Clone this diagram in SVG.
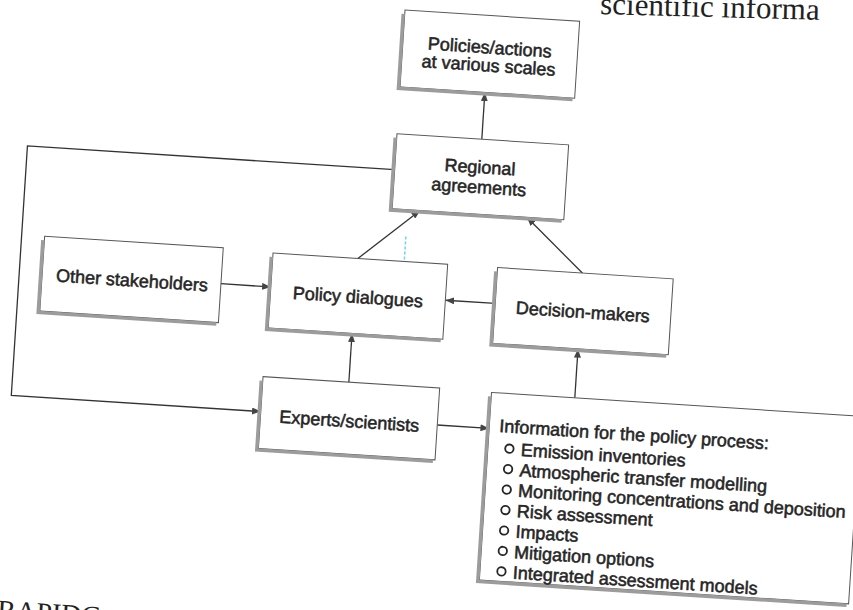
<svg xmlns="http://www.w3.org/2000/svg" width="853" height="610" viewBox="0 0 853 610">
<defs>
<style>
.box{fill:#fff;stroke:#555;stroke-width:1}
.shadow{fill:none;stroke:#9c9c9c;stroke-width:3.5}
.lbl{font-family:"Liberation Sans",Arial,sans-serif;font-size:18px;fill:#262626;stroke:#262626;stroke-width:0.55px}
.mid{text-anchor:middle}
.conn{fill:none;stroke:#333;stroke-width:1.3}
.bul{fill:none;stroke:#262626;stroke-width:1.8}
.page{font-family:"Liberation Serif","Times New Roman",serif;fill:#222}
</style>
<marker id="ah" viewBox="0 0 10 8" refX="10" refY="4" markerWidth="9" markerHeight="7" orient="auto" markerUnits="userSpaceOnUse">
<path d="M0,0 L10,4 L0,8 z" fill="#444"/>
</marker>
</defs>
<rect x="0" y="0" width="853" height="610" fill="#fff"/>
<text class="page" x="600" y="14" font-size="31" transform="rotate(1.5 600 14)">scientific informa</text>
<g transform="rotate(3.7 426 305)">
<text class="page" x="18" y="646" font-size="28">RAPIDC</text>
<g id="connectors">
<line class="conn" x1="471" y1="136" x2="471" y2="89" marker-end="url(#ah)"/>
<polyline class="conn" points="386,172 18,172 18,422 268,422" marker-end="url(#ah)"/>
<line class="conn" x1="220" y1="297" x2="270" y2="297" marker-end="url(#ah)"/>
<line class="conn" x1="355" y1="263" x2="414" y2="211" marker-end="url(#ah)"/>
<line class="conn" x1="580" y1="263" x2="521" y2="211" marker-end="url(#ah)"/>
<line class="conn" x1="495" y1="299" x2="445" y2="299" marker-end="url(#ah)"/>
<line class="conn" x1="354" y1="387" x2="354" y2="338" marker-end="url(#ah)"/>
<line class="conn" x1="445" y1="424" x2="497" y2="424" marker-end="url(#ah)"/>
<line class="conn" x1="580.5" y1="388" x2="580.5" y2="339" marker-end="url(#ah)"/>
</g>
<line x1="401.5" y1="238" x2="401.5" y2="261" stroke="#6cd3e6" stroke-width="1.5" stroke-dasharray="3 2"/>
<g id="policies">
<rect class="box" x="386" y="12" width="175" height="77"/>
<path class="shadow" d="M384.5,16 V90.5 H559"/>
<text class="lbl mid" x="473" y="50">Policies/actions</text>
<text class="lbl mid" x="473" y="68">at various scales</text>
</g>
<g id="regional">
<rect class="box" x="386" y="136" width="172" height="75"/>
<path class="shadow" d="M384.5,140 V212.5 H556"/>
<text class="lbl mid" x="471" y="170">Regional</text>
<text class="lbl mid" x="471" y="190">agreements</text>
</g>
<g id="stakeholders">
<rect class="box" x="41" y="261" width="179" height="75"/>
<path class="shadow" d="M39.5,265 V337.5 H218"/>
<text class="lbl mid" x="131" y="305.5">Other stakeholders</text>
</g>
<g id="dialogues">
<rect class="box" x="270" y="263" width="175" height="75"/>
<path class="shadow" d="M268.5,267 V339.5 H443"/>
<text class="lbl mid" x="357.5" y="307.5">Policy dialogues</text>
</g>
<g id="decision">
<rect class="box" x="495" y="263" width="176" height="76"/>
<path class="shadow" d="M493.5,267 V340.5 H669"/>
<text class="lbl mid" x="583" y="308">Decision-makers</text>
</g>
<g id="experts">
<rect class="box" x="268" y="387" width="177" height="72"/>
<path class="shadow" d="M266.5,391 V460.5 H443"/>
<text class="lbl mid" x="357" y="432">Experts/scientists</text>
</g>
<g id="information">
<rect class="box" x="497" y="388" width="370" height="188"/>
<path class="shadow" d="M495.5,392 V577.5 H865"/>
<text class="lbl" x="507" y="427">Information for the policy process:</text>
<circle class="bul" cx="518.5" cy="443" r="4.2"/>
<text class="lbl" x="530" y="449.5">Emission inventories</text>
<circle class="bul" cx="518.5" cy="463.5" r="4.2"/>
<text class="lbl" x="530" y="470">Atmospheric transfer modelling</text>
<circle class="bul" cx="518.5" cy="484" r="4.2"/>
<text class="lbl" x="530" y="490.5">Monitoring concentrations and deposition</text>
<circle class="bul" cx="518.5" cy="504.5" r="4.2"/>
<text class="lbl" x="530" y="511">Risk assessment</text>
<circle class="bul" cx="518.5" cy="525" r="4.2"/>
<text class="lbl" x="530" y="531.5">Impacts</text>
<circle class="bul" cx="518.5" cy="545.5" r="4.2"/>
<text class="lbl" x="530" y="552">Mitigation options</text>
<circle class="bul" cx="518.5" cy="566" r="4.2"/>
<text class="lbl" x="530" y="572.5">Integrated assessment models</text>
</g>
</g>
</svg>
